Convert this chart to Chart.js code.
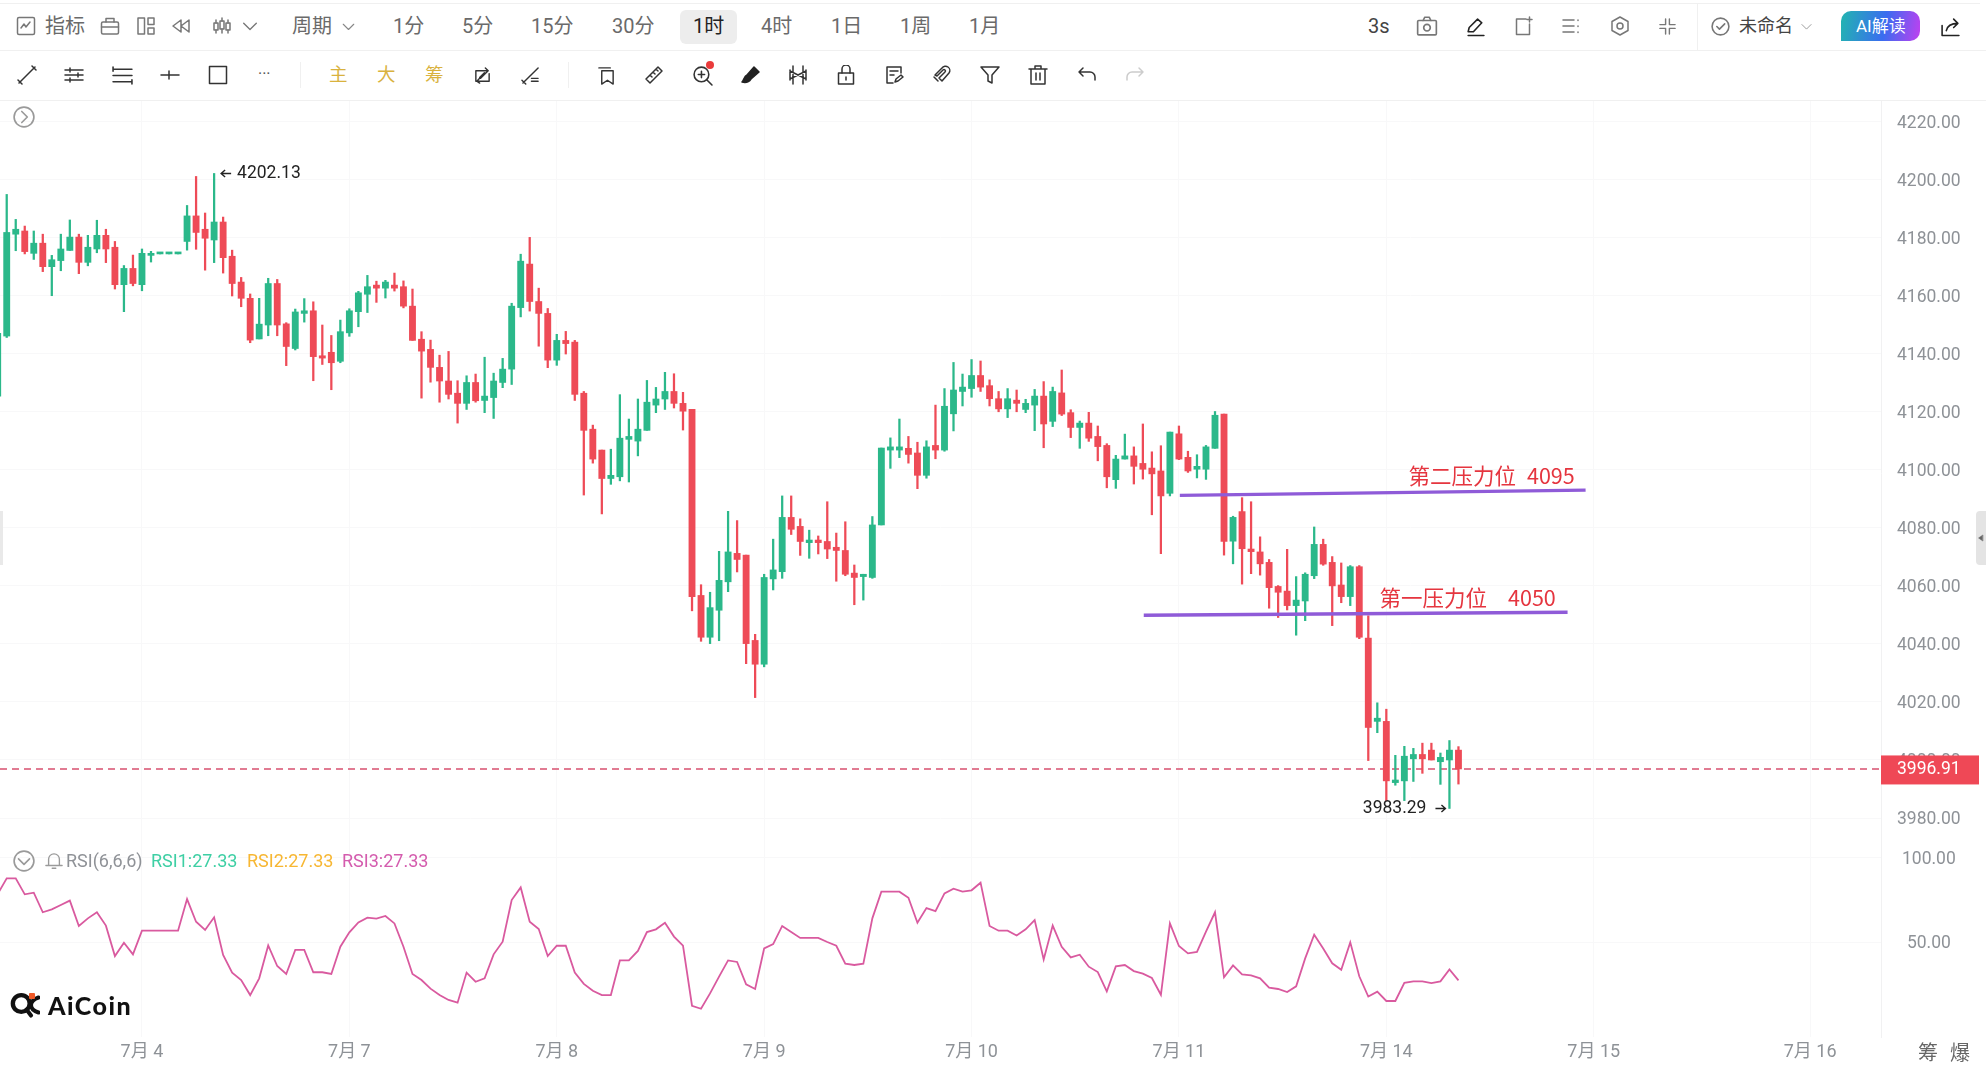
<!DOCTYPE html>
<html lang="zh">
<head>
<meta charset="utf-8">
<title>ETH 1时 K线</title>
<script src="https://cdn.jsdelivr.net/npm/chart.js@4/dist/chart.umd.min.js"></script>
<style>
  html, body { margin: 0; padding: 0; background: #fff; }
  body { width: 1986px; height: 1074px; position: relative; overflow: hidden;
         font-family: Roboto, "Noto Sans CJK SC", sans-serif; }
  canvas { position: absolute; left: 0; }
  .t { position: absolute; white-space: nowrap; line-height: 1; transform: translateY(-50%); }
  .hr { position: absolute; left: 0; height: 1px; background: #f0f0f0; }
  .vr { position: absolute; width: 1px; background: #f0f0f0; }
  svg.i { position: absolute; fill: none; stroke: #555; stroke-width: 1.5; stroke-linecap: round; stroke-linejoin: round; }
</style>
</head>
<body>
<canvas id="priceCanvas" width="1986" height="744" style="top:101px"></canvas>
<canvas id="rsiCanvas" width="1986" height="229" style="top:845px"></canvas>
<script>
// Hourly candles, oldest first
const candleHigh = [4147,4194.9,4186.3,4184.0,4182.3,4181.2,4173.9,4181.2,4186.1,4181.2,4180.8,4186.0,4182.9,4178.7,4170.4,4174.0,4176.1,4175.3,4174.4,4174.4,4174.4,4191.1,4201.1,4188.5,4202.13,4187.1,4175.7,4166.3,4160.6,4159.1,4166.0,4165.6,4150.7,4155.4,4159.0,4157.9,4149.9,4146.3,4151.6,4155.5,4161.5,4167.0,4165.0,4165.3,4167.8,4165.1,4162.3,4147.6,4144.7,4139.5,4140.8,4130.7,4132.4,4133.0,4138.8,4133.3,4138.4,4157.4,4174.3,4180.1,4162.6,4155.6,4146.7,4147.7,4144.6,4127.0,4115.4,4106.8,4107.1,4125.9,4117.5,4124.4,4130.8,4128.4,4133.6,4133.1,4126.7,4120.8,4060.4,4057.8,4071.9,4085.7,4082.5,4070.6,4043.3,4064.0,4076.1,4091.0,4091.0,4083.1,4079.2,4077.2,4089.0,4078.2,4082.1,4067.2,4064.0,4083.9,4107.5,4111.0,4117.5,4111.5,4109.5,4110.0,4122.3,4128.0,4137.0,4133.0,4138.0,4137.5,4131.0,4127.0,4128.0,4127.5,4124.3,4127.7,4130.4,4128.5,4134.4,4120.7,4116.8,4119.8,4115.1,4109.0,4105.0,4112.3,4107.9,4115.8,4106.2,4108.3,4113.0,4115.1,4106.4,4105.2,4108.4,4120.1,4119.2,4084.0,4090.4,4089.0,4076.9,4069.1,4060.1,4072.6,4063.2,4064.5,4080.3,4076.1,4070.1,4067.9,4067.0,4067.0,4049.7,4019.7,4017.5,4001.6,4004.7,4004.0,4005.8,4005.8,4002.4,4006.7,4004.6];
const candleOpen = [4125.4,4146.1,4181.2,4182.3,4174.6,4178.1,4170.0,4172.1,4175.6,4180.2,4171.5,4176.1,4180.8,4176.7,4163.8,4169.4,4163.8,4173.9,4174.4,4174.4,4174.4,4178.7,4187.5,4182.9,4179.2,4185.4,4173.6,4164.7,4159.1,4145.1,4149.9,4164.2,4150.3,4141.8,4153.9,4154.8,4139.3,4140.5,4137.4,4147.2,4154.5,4160.5,4163.65,4162.6,4163.65,4163.1,4156.4,4145.0,4141.5,4135.3,4130.6,4126.4,4122.9,4130.1,4123.9,4124.9,4130.1,4134.7,4155.9,4170.9,4158.0,4153.9,4137.8,4144.6,4144.0,4126.4,4114.0,4106.8,4097.0,4097.6,4110.5,4109.9,4113.6,4122.3,4124.4,4127.0,4122.9,4120.8,4056.7,4042.3,4051.6,4061.4,4071.2,4070.6,4041.2,4033.0,4062.4,4064.9,4083.6,4080.5,4074.9,4075.8,4075.3,4073.3,4072.2,4064.4,4063.2,4062.9,4081.0,4106.8,4106.8,4107.4,4105.8,4098.1,4108.4,4106.8,4119.3,4127.0,4128.0,4132.5,4129.0,4124.5,4121.0,4124.0,4120.8,4122.3,4125.4,4116.7,4126.5,4119.7,4114.6,4116.1,4111.5,4108.4,4096.6,4103.7,4104.8,4102.2,4100.6,4099.6,4091.9,4112.4,4104.3,4100.2,4100.2,4107.4,4119.2,4075.4,4085.6,4072.7,4071.7,4068.1,4059.8,4058.2,4053.2,4054.8,4063.5,4074.3,4068.1,4060.3,4056.3,4066.6,4042.0,4013.3,4013.3,3992.2,3992.8,4000.4,4001.9,4003.4,3999.4,4000.0,4003.4];
const candleClose = [4147,4181.8,4182.9,4175.2,4178.1,4170.0,4172.4,4176.1,4180.2,4171.5,4176.7,4180.8,4176.1,4163.8,4169.4,4164.2,4174.6,4174.6,4174.4,4174.4,4174.4,4187.5,4181.8,4179.8,4185.4,4173.1,4164.2,4159.1,4144.7,4150.2,4164.2,4149.9,4142.5,4154.4,4154.8,4139.0,4138.5,4136.9,4147.6,4154.8,4161.0,4163.1,4162.6,4164.7,4162.6,4156.4,4144.6,4140.9,4135.3,4130.6,4126.0,4122.9,4130.1,4123.8,4125.4,4130.6,4134.7,4156.4,4171.9,4158.0,4153.9,4137.8,4144.6,4143.5,4126.0,4113.6,4103.7,4097.0,4098.1,4110.9,4111.5,4114.0,4123.3,4124.4,4127.0,4122.9,4120.2,4056.3,4042.3,4052.5,4061.9,4071.7,4069.1,4040.1,4033.0,4062.9,4065.5,4083.6,4079.5,4075.3,4075.8,4074.9,4072.7,4072.2,4064.0,4062.9,4064.0,4081.0,4107.5,4107.9,4107.9,4105.3,4098.1,4107.9,4106.8,4121.9,4127.5,4128.5,4132.5,4128.5,4124.5,4121.0,4124.5,4122.9,4122.9,4125.4,4115.8,4127.0,4119.2,4114.6,4116.1,4110.9,4108.0,4097.6,4103.7,4104.8,4101.2,4100.2,4098.6,4091.0,4113.0,4103.7,4099.6,4101.2,4107.9,4118.8,4075.3,4083.6,4072.8,4071.8,4067.6,4059.4,4057.8,4053.2,4055.1,4064.0,4074.3,4067.5,4060.0,4056.3,4066.6,4042.3,4011.2,4014.4,3992.8,3993.1,4001.3,4001.9,4000.4,4000.0,4000.9,4003.4,3996.91];
const candleLow = [4125.2,4145.6,4175.5,4174.4,4172.5,4168.3,4160.0,4168.6,4175.6,4167.6,4170.3,4174.8,4171.4,4162.3,4154.5,4163.4,4161.7,4171.6,4174.4,4174.4,4174.4,4175.7,4176.0,4168.8,4171.4,4167.8,4159.9,4156.2,4143.8,4145.1,4146.2,4146.2,4135.9,4141.3,4150.9,4130.7,4136.3,4127.6,4136.9,4146.0,4149.3,4154.2,4157.7,4159.2,4161.6,4155.8,4144.6,4124.7,4130.2,4123.3,4124.4,4116.1,4120.8,4123.3,4119.7,4117.7,4128.3,4129.4,4152.7,4154.7,4142.6,4135.2,4136.0,4139.9,4123.9,4091.3,4102.3,4084.8,4095.0,4096.2,4095.8,4104.8,4113.6,4119.7,4120.8,4121.3,4113.7,4051.4,4040.9,4040.1,4041.1,4058.0,4064.8,4033.2,4021.5,4032.1,4058.6,4062.6,4077.7,4070.5,4069.5,4071.0,4069.4,4061.6,4063.5,4053.5,4055.1,4062.6,4081.0,4100.5,4104.2,4102.3,4093.5,4097.1,4103.8,4106.4,4113.4,4122.0,4125.0,4127.0,4122.0,4120.0,4118.0,4120.0,4119.7,4113.5,4107.6,4114.9,4118.7,4111.1,4107.4,4109.8,4103.1,4093.8,4093.6,4103.7,4095.1,4096.8,4084.5,4071.1,4091.0,4103.5,4099.1,4097.2,4096.7,4107.4,4070.6,4067.6,4060.6,4064.2,4063.7,4052.3,4049.1,4051.7,4043.0,4048.0,4062.5,4067.1,4046.3,4054.2,4053.2,4041.8,3999.8,4009.4,3986.0,3991.3,3986.0,3992.6,3995.4,4000.0,3991.6,3983.29,3991.7];

// RSI(6) by candle
const rsiValues = [78.4,87.7,87.7,78.2,79.2,67.6,69.3,71.9,74.5,59.5,64.0,67.6,59.7,41.7,49.6,42.7,56.7,56.7,56.7,56.7,56.7,75.4,62.0,57.1,64.6,42.3,31.9,27.5,18.6,28.5,48.0,35.8,31.1,45.3,45.3,32.1,32.1,31.1,47.2,55.7,61.6,64.4,63.8,65.4,61.0,47.2,31.1,27.5,22.4,18.6,15.7,14.1,31.9,26.5,28.5,42.7,50.2,74.8,82.3,62.0,57.7,41.7,47.8,47.8,31.9,25.2,21.2,18.6,18.6,39.1,39.1,44.7,55.9,57.5,61.4,53.2,47.8,12.3,10.5,19.6,29.5,39.1,38.2,25.0,22.2,46.2,48.8,59.5,55.9,52.4,52.4,52.4,50.0,47.8,37.2,36.4,37.2,64.0,79.8,79.8,79.8,76.2,61.4,70.1,68.3,78.8,81.6,79.8,80.6,85.1,59.5,56.7,56.7,53.9,57.5,63.0,39.7,59.7,47.2,40.9,42.5,35.4,32.2,20.8,35.6,36.4,32.8,31.3,28.7,18.8,61.0,47.6,43.3,44.1,56.1,67.6,29.1,36.2,30.9,30.3,28.5,23.0,22.2,20.4,23.8,40.3,54.3,46.2,37.4,33.6,49.8,29.7,17.7,20.6,15.1,15.1,25.9,26.7,26.7,25.7,26.7,33.8,27.33];

// Axis ticks
const priceTicks = [4220,4200,4180,4160,4140,4120,4100,4080,4060,4040,4020,4000,3980];
const rsiTicks = [100,50];
const dateTickIndex = [16,39,62,85,108,131,154,177,201];
const dateTickLabel = ['7月 4','7月 7','7月 8','7月 9','7月 10','7月 11','7月 14','7月 15','7月 16'];

// Hand-drawn pressure levels: [candle index, price] end points
const pressureLine2 = [[131.1,4091.2],[176.1,4093.0]];
const pressureLine1 = [[127.1,4049.9],[174.1,4050.9]];
const pressureNotes = [
  ['第二压力位', 156.45, 4097.9], ['4095', 169.6, 4097.9],
  ['第一压力位', 153.25, 4055.8], ['4050', 167.5, 4055.8]
];
const highIndex = 24, lowIndex = 161;
const lastPrice = candleClose[candleClose.length - 1];

const UP = '#2bb88a', DOWN = '#ee4b57', GRID = '#f8f8f9', AXIS_TEXT = '#8e9297';
const UI_FONT = 'Roboto, "Noto Sans CJK SC", sans-serif';
const X_MIN = 0.255, X_MAX = 208.86;

Chart.defaults.animation = false;
Chart.defaults.font.family = UI_FONT;

const indices = candleOpen.map((_, i) => i);
const candleColors = indices.map(i => candleClose[i] >= candleOpen[i] ? UP : DOWN);
const pts = pairs => pairs.map(([x, y]) => ({x, y}));

const xAxis = (showLabels) => ({
  type: 'linear', min: X_MIN, max: X_MAX, offset: false,
  display: true,
  border: { display: false },
  grid: { color: GRID, drawTicks: false, lineWidth: 1, offset: false },
  afterBuildTicks: s => { s.ticks = dateTickIndex.map(value => ({value})); },
  afterFit: s => { s.height = showLabels ? 37 : 0; s.paddingLeft = 0; s.paddingRight = 0; },
  ticks: {
    display: showLabels, autoSkip: false, maxRotation: 0, padding: 5,
    color: AXIS_TEXT, font: { size: 18 },
    callback: v => dateTickLabel[dateTickIndex.indexOf(v)]
  }
});
const yAxis = (min, max, tickValues, pad) => ({
  type: 'linear', position: 'right', min, max,
  border: { display: true, color: '#f1f1f2' },
  grid: { color: GRID, drawTicks: false },
  afterBuildTicks: s => { s.ticks = tickValues.map(value => ({value})); },
  afterFit: s => { s.width = 105; s.paddingTop = 0; s.paddingBottom = 0; },
  ticks: { padding: pad, crossAlign: 'center', labelOffset: 2, color: AXIS_TEXT, font: { size: 17.5 }, callback: v => v.toFixed(2) }
});

// Text and the last-price tag placed through the chart's own scales
const priceMarks = {
  id: 'priceMarks',
  afterDatasetsDraw(chart) {
    const {ctx, scales: {x, y}} = chart;
    ctx.save();
    ctx.textBaseline = 'middle';
    ctx.font = '21.5px "Noto Sans CJK SC"';
    ctx.fillStyle = '#e5353f';
    ctx.textAlign = 'left';
    pressureNotes.forEach(([text, i, p]) => ctx.fillText(text, x.getPixelForValue(i), y.getPixelForValue(p)));

    ctx.font = '17.5px Roboto';
    ctx.fillStyle = '#222';
    ctx.strokeStyle = '#222';
    ctx.lineWidth = 1.4;
    const arrow = (x0, x1, py) => {
      const d = x1 > x0 ? -1 : 1;
      ctx.beginPath();
      ctx.moveTo(x0, py); ctx.lineTo(x1, py);
      ctx.moveTo(x1 + d * 4, py - 3.5); ctx.lineTo(x1, py); ctx.lineTo(x1 + d * 4, py + 3.5);
      ctx.stroke();
    };
    const hx = x.getPixelForValue(highIndex), hy = y.getPixelForValue(candleHigh[highIndex]);
    arrow(hx + 17, hx + 7, hy);
    ctx.fillText(candleHigh[highIndex].toFixed(2), hx + 23, hy);
    const lx = x.getPixelForValue(lowIndex), ly = y.getPixelForValue(candleLow[lowIndex]);
    arrow(lx - 14, lx - 4, ly);
    ctx.textAlign = 'right';
    ctx.fillText(candleLow[lowIndex].toFixed(2), lx - 23, ly);
    ctx.restore();
  },
  afterDraw(chart) {
    const {ctx, chartArea, scales: {y}} = chart;
    const py = y.getPixelForValue(lastPrice);
    ctx.save();
    ctx.fillStyle = '#ef4856';
    ctx.fillRect(chartArea.right, py - 13.5, 98, 29);
    ctx.fillStyle = '#fff';
    ctx.font = '17.5px Roboto';
    ctx.textBaseline = 'middle';
    ctx.textAlign = 'left';
    ctx.fillText(lastPrice.toFixed(2), chartArea.right + 16, py + 1);
    ctx.restore();
  }
};

new Chart(document.getElementById('priceCanvas'), {
  type: 'bar',
  plugins: [priceMarks],
  data: {
    datasets: [
      { type: 'line', order: 5, data: pts([[X_MIN, lastPrice], [X_MAX, lastPrice]]),
        borderColor: '#d8506f', borderWidth: 1.6, borderDash: [7, 5], pointRadius: 0 },
      { order: 3, data: indices.map(i => ({x: i, y: [candleLow[i], candleHigh[i]]})),
        backgroundColor: candleColors, barThickness: 1.6, borderSkipped: false },
      { order: 2, data: indices.map(i => ({x: i, y: [candleOpen[i], candleClose[i]]})),
        backgroundColor: candleColors, barThickness: 6.2, minBarLength: 2, borderSkipped: false },
      { type: 'line', order: 1, data: pts(pressureLine2), borderColor: '#8f5bd8', borderWidth: 3.4, pointRadius: 0 },
      { type: 'line', order: 1, data: pts(pressureLine1), borderColor: '#8f5bd8', borderWidth: 3.4, pointRadius: 0 }
    ]
  },
  options: {
    responsive: false, devicePixelRatio: 1, grouped: false,
    layout: { padding: 0, autoPadding: false },
    plugins: { legend: { display: false }, tooltip: { enabled: false } },
    scales: { x: xAxis(false), y: yAxis(3970.7, 4227.1, priceTicks, 16) }
  }
});

new Chart(document.getElementById('rsiCanvas'), {
  type: 'line',
  data: {
    datasets: [
      { data: indices.map(i => ({x: i, y: rsiValues[i]})),
        borderColor: '#d95a9f', borderWidth: 1.8, pointRadius: 0, tension: 0 }
    ]
  },
  options: {
    responsive: false, devicePixelRatio: 1,
    layout: { padding: 0, autoPadding: false },
    plugins: { legend: { display: false }, tooltip: { enabled: false } },
    scales: { x: xAxis(true), y: yAxis(-6.2, 107.4, rsiTicks, 21) }
  }
});

// Toolbars
function text(str, x, y, size, color, extra) {
  const el = document.createElement('div');
  el.className = 't';
  el.textContent = str;
  el.style.cssText = `left:${x}px;top:${y}px;font-size:${size}px;color:${color};${extra || ''}`;
  document.body.appendChild(el);
  return el;
}
function box(cls, css) {
  const el = document.createElement('div');
  el.className = cls; el.style.cssText = css;
  document.body.appendChild(el);
}
function icon(x, y, size, inner, stroke) {
  const ns = 'http://www.w3.org/2000/svg';
  const s = document.createElementNS(ns, 'svg');
  s.setAttribute('class', 'i'); s.setAttribute('viewBox', '0 0 20 20');
  s.setAttribute('width', size); s.setAttribute('height', size);
  s.style.left = x + 'px'; s.style.top = (y - size / 2) + 'px';
  if (stroke) s.style.stroke = stroke;
  s.innerHTML = inner;
  document.body.appendChild(s);
}

box('hr', 'top:3px;width:1980px');
box('hr', 'top:50px;width:1986px');
box('hr', 'top:100px;width:1986px');
box('vr', 'left:1697px;top:3px;height:47px');
box('vr', 'left:300px;top:62px;height:26px');
box('vr', 'left:568px;top:62px;height:26px');
box('t', 'left:680px;top:27px;width:57px;height:34px;background:#ededed;border-radius:6px');

const ROW1 = 26, ROW2 = 75, TXT = '#6a6a6a';
const topLabels = [['指标',45],['周期',292],['1分',393],['5分',462],['15分',531],['30分',612],['1时',693],['4时',761],['1日',831],['1周',900],['1月',969]];
topLabels.forEach(([s, x]) => text(s, x, ROW1, 20, s === '1时' ? '#222' : TXT));
text('3s', 1368, ROW1, 20, '#444');
text('未命名', 1739, ROW1, 18, '#444');
text('主', 329, ROW2, 18.5, '#d9b23e');
text('大', 377, ROW2, 18.5, '#d9b23e');
text('筹', 425, ROW2, 18.5, '#d9b23e');
text('筹', 1918, 1053, 20, '#666');
text('爆', 1950, 1053, 20, '#666');

box('t', 'left:1841px;top:26px;width:79px;height:30px;background:linear-gradient(100deg,#22b5b0,#3a6cf0 55%,#c040f0);border-radius:10px 10px 10px 0;transform:translateY(-50%)');
text('AI解读', 1856, 26, 17, '#fff');

const chevron = '<path d="M3 7l7 7 7-7"/>';
icon(16, ROW1, 20, '<rect x="1.5" y="1.5" width="17" height="17" rx="1.5"/><path d="M5 12l3-4 2 3 4-5"/>', '#777');
icon(100, ROW1, 20, '<rect x="1.5" y="6" width="17" height="12" rx="1.5"/><path d="M6 6V2.5h8V6M1.5 11h17"/>', '#777');
icon(136, ROW1, 20, '<rect x="2" y="2" width="6.5" height="16"/><rect x="12" y="2" width="6" height="6.5"/><rect x="12" y="12" width="6" height="6"/>', '#777');
icon(171, ROW1, 20, '<path d="M10 4l-8 6 8 6zM18 4l-8 6 8 6z"/>', '#777');
icon(212, ROW1, 20, '<rect x="2" y="7" width="4" height="7"/><rect x="8" y="5" width="4" height="8"/><rect x="14" y="7" width="4" height="7"/><path d="M4 4v3M4 14v3M10 2v3M10 13v4M16 4v3M16 14v3"/>', '#777');
icon(241, ROW1, 18, chevron, '#777');
icon(341, ROW1, 15, chevron, '#888');
icon(1416, ROW1, 22, '<rect x="1.5" y="5" width="17" height="13" rx="1"/><path d="M6.5 5l1.5-3h4l1.5 3"/><circle cx="10" cy="11.5" r="3"/>', '#777');
icon(1465, ROW1, 21, '<path d="M3 15l1-4L12 3l4 3.5-8 8.5zM3 18.5h15"/>', '#222');
icon(1514, ROW1, 20, '<path d="M12 3H2.5v15.5h13V8M15.5 1v5M13 3.5h5"/>', '#777');
icon(1561, ROW1, 20, '<path d="M2 4h11M2 10h11M2 16h11M17 4v.5M17 10v.5M17 16v.5"/>', '#777');
icon(1610, ROW1, 20, '<path d="M10 1l8 4.5v9L10 19l-8-4.5v-9z"/><circle cx="10" cy="10" r="3"/>', '#777');
icon(1658, ROW1, 19, '<path d="M8 2v6H2M12 2v6h6M8 18v-6H2M12 18v-6h6"/>', '#777');
icon(1710, ROW1, 21, '<circle cx="10" cy="10" r="8"/><path d="M6.5 10l2.5 2.5 5-5"/>', '#777');
icon(1800, ROW1, 13, chevron, '#999');
icon(1940, ROW1, 21, '<path d="M2 9v9.5h16M6 14c1-5 5-7 11-7M13 3l4 4-4 4"/>', '#222');

const R2 = '#333';
icon(17, ROW2, 20, '<path d="M2 18L18 2M1 15l4 4M15 1l4 4"/>', R2);
icon(64, ROW2, 20, '<path d="M1 5h18M1 10h18M1 15h18M6 3v4M14 8v4M6 13v4"/>', R2);
icon(112, ROW2, 21, '<path d="M1 4h18M1 10h18M1 16h18M1 2v4M19 14v4"/>', R2);
icon(160, ROW2, 20, '<path d="M1 10h18M9 6v8"/>', R2);
icon(208, ROW2, 20, '<rect x="1.5" y="1.5" width="17" height="17"/>', R2);
text('···', 258, ROW2 - 1, 16, '#555');
icon(473, ROW2, 19, '<path d="M16 5H3v11M4 16h13V8M13 2l3 3-3 3M7 18l-3-2 3-3M7 12l5-5 1 1-5 5z"/>', R2);
icon(521, ROW2, 19, '<path d="M2 18L18 2M1 15l4 4M11 13h7M11 16h7"/>', R2);
icon(597, ROW2, 19, '<path d="M2 2h12M5 5h12v14l-6-4-6 4z"/>', R2);
icon(644, ROW2, 20, '<path d="M2 14L14 2l4 4L6 18zM6 10l2 2M9 7l2 2M12 4l2 2"/>', R2);
icon(692, ROW2, 21, '<circle cx="9" cy="9" r="7"/><path d="M14 14l5 5M6 9h6M9 6v6"/>', R2);
box('t', 'left:706px;top:65px;width:8px;height:8px;border-radius:50%;background:#ea3b3b');
icon(741, ROW2, 20, '<path d="M13 2l5 5-8 7-4-4zM6 10c-3 1-3 5-5 7 4 1 7 0 9-3" fill="#222"/>', '#222');
icon(788, ROW2, 20, '<path d="M5 1v18M15 1v18M2 6l16 8M2 14l16-8M2 5v10M18 5v10"/>', R2);
icon(836, ROW2, 20, '<rect x="2.5" y="8" width="15" height="11"/><path d="M6 8V4a4 4 0 0 1 8 0v4M10 12v3"/>', R2);
icon(884, ROW2, 20, '<path d="M17 8V2H3v16h6M6 6h8M6 10h4M11 17l1-3 5-4 2 2-5 4z"/>', R2);
icon(932, ROW2, 20, '<path d="M3 10l7-7a4 4 0 0 1 7 5l-7 8-3-3 6-6a1 1 0 0 0-2-2l-6 6zM2 12l4 4"/>', R2);
icon(980, ROW2, 20, '<path d="M1 2h18l-7 8v8l-4-2v-6z"/>', R2);
icon(1028, ROW2, 20, '<path d="M1 4h18M7 4V1h6v3M3 4v15h14V4M8 8v7M12 8v7"/>', R2);
icon(1077, ROW2, 20, '<path d="M6 3L2 7l4 4M2 7h11a5 5 0 0 1 5 5v3"/>', R2);
icon(1125, ROW2, 20, '<path d="M14 3l4 4-4 4M18 7H7a5 5 0 0 0-5 5v3"/>', '#ccc');

// Pane headers and handles
icon(13, 117, 22, '<circle cx="10" cy="10" r="9"/><path d="M8 5l5 5-5 5"/>', '#9a9a9a');
icon(13, 861, 22, '<circle cx="10" cy="10" r="9"/><path d="M5 8l5 5 5-5"/>', '#9a9a9a');
icon(45, 861, 18, '<path d="M4 15V8a6 6 0 0 1 12 0v7M1 15h18M8 18h4"/>', '#9a9a9a');
text('RSI(6,6,6)', 66, 861, 18, '#8f9297');
text('RSI1:27.33', 151, 861, 18, '#3ecfa4');
text('RSI2:27.33', 247, 861, 18, '#f7b733');
text('RSI3:27.33', 342, 861, 18, '#d45cae');

box('t', 'left:0;top:538px;width:3px;height:54px;background:#e9e9e9');
box('t', 'left:1976px;top:538px;width:10px;height:54px;background:#e4e4e4;border-radius:4px 0 0 4px');
icon(1977, 538, 8, '<path d="M14 3L4 10l10 7z" fill="#666"/>', '#666');

// Watermark
icon(10, 1005, 30, '<circle cx="7.5" cy="9" r="5.6" stroke-width="2.9"/><path d="M11 13l3 4M19 5c-3 1-5 3-5 5s2 4 5 5" stroke-width="2.7"/>', '#111');
box('t', 'left:29px;top:996px;width:6px;height:6px;background:#f05a28;border-radius:1px');
text('AiCoin', 48, 1005, 25, '#111', 'font-family:Lato,sans-serif;font-weight:900;letter-spacing:1.5px');
</script>
</body>
</html>
